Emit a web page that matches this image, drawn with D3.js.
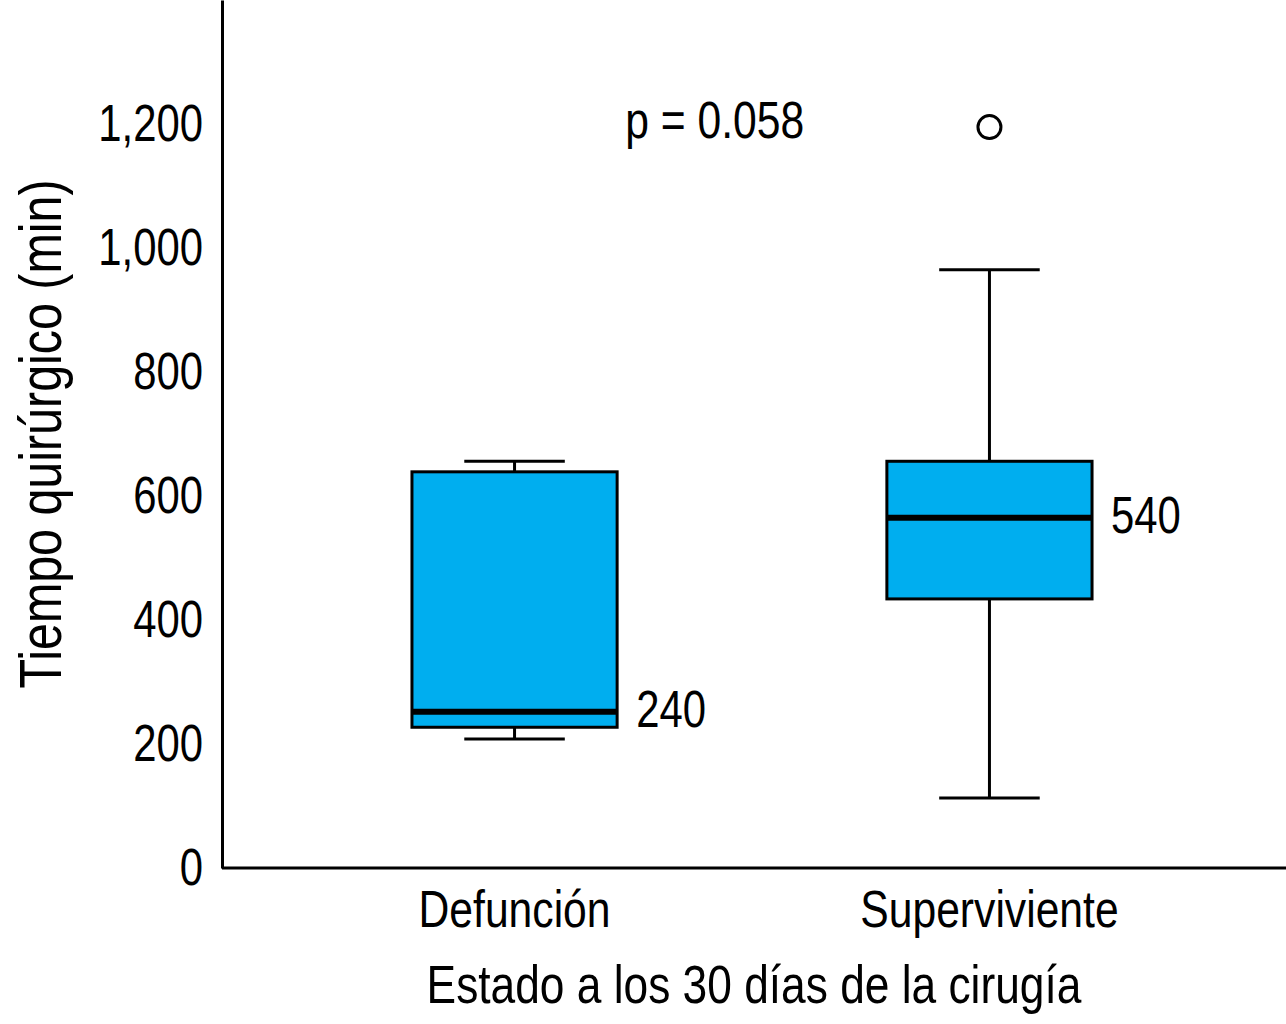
<!DOCTYPE html>
<html>
<head>
<meta charset="utf-8">
<script src="https://cdn.jsdelivr.net/npm/d3@7"></script>
<style>
  html, body { margin: 0; padding: 0; background: #fff; }
  svg { display: block; }
  text { font-family: 'Liberation Sans', Arial, Helvetica, sans-serif; fill: #000; }
</style>
</head>
<body>
<svg id="chart" width="1286" height="1024"></svg>
<script>
// ---- data ----
const categories = ["Defunción", "Superviviente"];
const whiskerLow = [208, 113];
const q1 = [227, 434];
const median = [252, 565];
const q3 = [639, 656];
const whiskerHigh = [656, 965];
const outlierCategory = ["Superviviente"];
const outlierValue = [1195];
const medianLabels = ["240", "540"];
const yTicks = [0, 200, 400, 600, 800, 1000, 1200];
const pValueText = "p = 0.058";
const pValueLevel = 1200;
const yTitle = "Tiempo quirúrgico (min)";
const xTitle = "Estado a los 30 días de la cirugía";

// ---- layout ----
const W = 1286, H = 1024;
const margin = { left: 222, right: 0, top: 0, bottom: 156 };
const plotBottom = H - margin.bottom;
const narrow = 0.82; // condensed face emulation

function condense(sel) {
  sel.each(function () {
    const L = this.getComputedTextLength();
    this.setAttribute("textLength", (L * narrow).toFixed(2));
    this.setAttribute("lengthAdjust", "spacingAndGlyphs");
  });
}

const svg = d3.select("#chart");

const y = d3.scaleLinear().domain([0, 1400]).range([plotBottom, margin.top]);
const x = d3.scaleBand().domain(categories).range([margin.left, W - 4])
  .paddingInner(0.568).paddingOuter(0.40).align(0.5);

const boxes = categories.map((c, i) => ({
  cat: c, lo: whiskerLow[i], q1: q1[i], med: median[i], q3: q3[i], hi: whiskerHigh[i], label: medianLabels[i]
}));

const bw = x.bandwidth();
const capW = bw * 0.49;
const fill = "#00AEEF";

const g = svg.append("g");

// whiskers
boxes.forEach(d => {
  const cx = x(d.cat) + bw / 2;
  g.append("line").attr("x1", cx).attr("x2", cx).attr("y1", y(d.q3)).attr("y2", y(d.hi))
    .attr("stroke", "#000").attr("stroke-width", 3);
  g.append("line").attr("x1", cx).attr("x2", cx).attr("y1", y(d.q1)).attr("y2", y(d.lo))
    .attr("stroke", "#000").attr("stroke-width", 3);
  g.append("line").attr("x1", cx - capW / 2).attr("x2", cx + capW / 2).attr("y1", y(d.hi)).attr("y2", y(d.hi))
    .attr("stroke", "#000").attr("stroke-width", 3);
  g.append("line").attr("x1", cx - capW / 2).attr("x2", cx + capW / 2).attr("y1", y(d.lo)).attr("y2", y(d.lo))
    .attr("stroke", "#000").attr("stroke-width", 3);
});

// boxes
g.selectAll("rect.box").data(boxes).join("rect")
  .attr("class", "box")
  .attr("x", d => x(d.cat))
  .attr("width", bw)
  .attr("y", d => y(d.q3))
  .attr("height", d => y(d.q1) - y(d.q3))
  .attr("fill", fill)
  .attr("stroke", "#000")
  .attr("stroke-width", 3);

// medians
g.selectAll("line.med").data(boxes).join("line")
  .attr("class", "med")
  .attr("x1", d => x(d.cat))
  .attr("x2", d => x(d.cat) + bw)
  .attr("y1", d => y(d.med))
  .attr("y2", d => y(d.med))
  .attr("stroke", "#000")
  .attr("stroke-width", 6);

// median labels
g.selectAll("text.medlab").data(boxes).join("text")
  .attr("class", "medlab")
  .attr("x", d => x(d.cat) + bw + 19)
  .attr("y", d => y(d.med))
  .attr("dy", "0.3em")
  .attr("font-size", 51)
  .text(d => d.label);

// outliers
g.selectAll("circle.out").data(outlierValue).join("circle")
  .attr("class", "out")
  .attr("cx", (d, i) => x(outlierCategory[i]) + bw / 2)
  .attr("cy", d => y(d))
  .attr("r", 11.5)
  .attr("fill", "#fff")
  .attr("stroke", "#000")
  .attr("stroke-width", 3);

// p-value
g.append("text")
  .attr("x", x(categories[0]) + bw + 8)
  .attr("y", y(pValueLevel))
  .attr("dy", "0.26em")
  .attr("font-size", 52)
  .text(pValueText);

// axes
const yAxis = d3.axisLeft(y).tickValues(yTicks).tickFormat(d3.format(",")).tickSize(0).tickSizeOuter(0).tickPadding(19);
const ya = svg.append("g").attr("transform", `translate(${margin.left},0)`).call(yAxis);
ya.attr("font-family", null).attr("font-size", null);
ya.select(".domain").attr("stroke", "#000").attr("stroke-width", 3).attr("fill", "none");
ya.selectAll("text").attr("font-size", 51).attr("fill", "#000");

const xAxis = d3.axisBottom(x).tickSize(0).tickSizeOuter(0).tickPadding(22);
const xa = svg.append("g").attr("transform", `translate(0,${plotBottom})`).call(xAxis);
xa.attr("font-family", null).attr("font-size", null);
xa.select(".domain").attr("d", `M${margin.left},0H${W - margin.right}`)
  .attr("stroke", "#000").attr("stroke-width", 3).attr("fill", "none");
xa.selectAll("text").attr("font-size", 52).attr("fill", "#000");

// axis titles
svg.append("text")
  .attr("x", (margin.left + W - margin.right) / 2)
  .attr("y", 1003)
  .attr("text-anchor", "middle")
  .attr("font-size", 54)
  .text(xTitle);

svg.append("text")
  .attr("transform", `translate(61,${(y.range()[0] + y.range()[1]) / 2}) rotate(-90)`)
  .attr("text-anchor", "middle")
  .attr("font-size", 59)
  .text(yTitle);

condense(svg.selectAll("text"));
</script>
</body>
</html>
